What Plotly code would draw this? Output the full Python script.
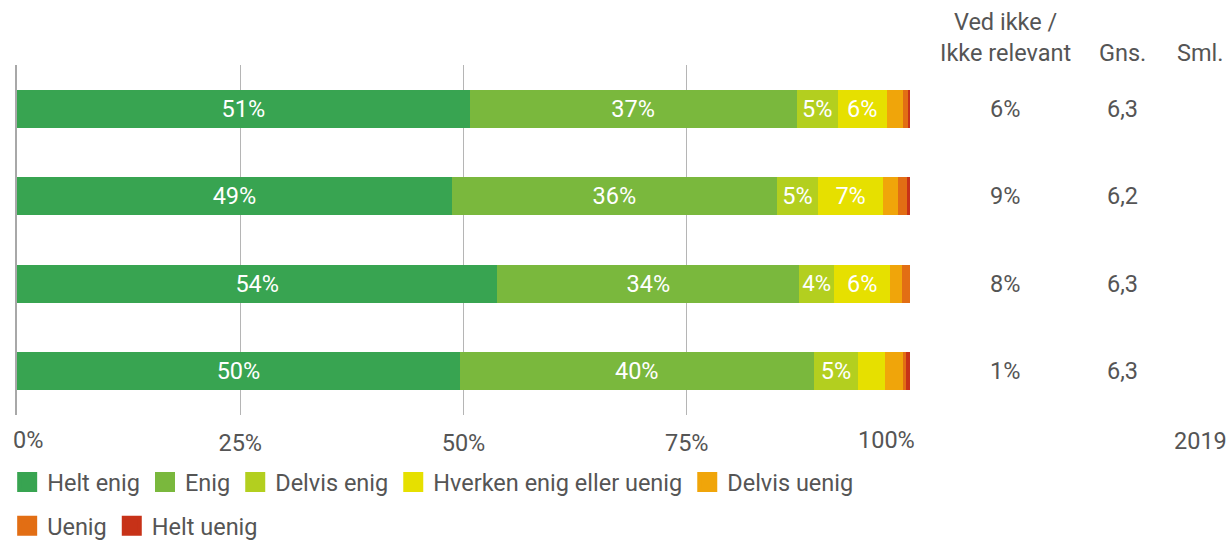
import plotly.graph_objects as go

# ---- data ----
categories = ["Påstand 1", "Påstand 2", "Påstand 3", "Påstand 4"]
series_names = ["Helt enig", "Enig", "Delvis enig", "Hverken enig eller uenig",
                "Delvis uenig", "Uenig", "Helt uenig"]
helt_enig = [50.7, 48.7, 53.8, 49.6]
enig = [36.6, 36.4, 33.8, 39.6]
delvis_enig = [4.6, 4.6, 3.9, 5.0]
hverken = [5.5, 7.3, 6.3, 3.0]
delvis_uenig = [1.8, 1.6, 1.3, 2.0]
uenig = [0.6, 1.1, 0.9, 0.3]
helt_uenig = [0.2, 0.3, 0.0, 0.5]
ved_ikke = [6, 9, 8, 1]
gns = [6.3, 6.2, 6.3, 6.3]
sml_year = "2019"
tick_vals = [0, 25, 50, 75, 100]
tick_labels = ["0%", "25%", "50%", "75%", "100%"]

series_values = [helt_enig, enig, delvis_enig, hverken, delvis_uenig, uenig, helt_uenig]
colors = ["#38a451", "#7ab83d", "#b3cf1f", "#e6e000", "#f0a50a", "#e26e14", "#c73218"]

FONT = "Roboto"
GREY = "#555555"
FS = 23.5

fig = go.Figure()
for name, vals, col in zip(series_names, series_values, colors):
    labels = [f"{round(v)}%" if v >= 3.5 else "" for v in vals]
    fig.add_trace(go.Bar(
        y=categories, x=vals, name=name, orientation="h",
        marker=dict(color=col, line=dict(width=0)),
        text=labels, textposition="inside", insidetextanchor="middle", textangle=0,
        textfont=dict(color="white", size=FS, family=FONT),
        showlegend=False, hoverinfo="name+x",
    ))

# legend entries (two rows)
for i, (name, col) in enumerate(zip(series_names, colors)):
    fig.add_trace(go.Scatter(
        x=[None], y=[None], mode="markers", name=name,
        marker=dict(symbol="square", size=16, color=col, line=dict(color=col, width=4)),
        legend="legend" if i < 5 else "legend2", showlegend=True,
    ))

def px_to_paper(px):
    return (px - 17) / 893.0

X_VED = px_to_paper(1005)
X_GNS = px_to_paper(1122)
X_SML = px_to_paper(1200)
Y_TICK = -0.0714
tfont = dict(size=FS, color=GREY, family=FONT)

annotations = []
for cat, v, g in zip(categories, ved_ikke, gns):
    annotations.append(dict(x=X_VED, y=cat, xref="paper", yref="y", text=f"{v}%",
                            xanchor="center", yanchor="middle", showarrow=False, font=tfont))
    annotations.append(dict(x=X_GNS, y=cat, xref="paper", yref="y",
                            text=f"{g:.1f}".replace(".", ","), xanchor="center",
                            yanchor="middle", showarrow=False, font=tfont))
annotations.append(dict(x=X_VED, y=1.0, xref="paper", yref="paper", xanchor="center",
                        yanchor="bottom", yshift=-4,
                        text="Ved ikke /<br>Ikke relevant", showarrow=False, font=tfont))
annotations.append(dict(x=X_GNS, y=1.0, xref="paper", yref="paper", xanchor="center",
                        yanchor="bottom", yshift=-4,
                        text="Gns.", showarrow=False, font=tfont))
annotations.append(dict(x=X_SML, y=1.0, xref="paper", yref="paper", xanchor="center",
                        yanchor="bottom", yshift=-4,
                        text="Sml.", showarrow=False, font=tfont))
annotations.append(dict(x=X_SML, y=Y_TICK, xref="paper", yref="paper", xanchor="center",
                        yanchor="middle", yshift=-1,
                        text=sml_year, showarrow=False, font=tfont))
# edge tick labels
annotations.append(dict(x=tick_vals[0], y=Y_TICK, xref="x", yref="paper", yanchor="middle",
                        xanchor="left", xshift=-6, text=tick_labels[0], showarrow=False,
                        font=tfont))
annotations.append(dict(x=tick_vals[-1], y=Y_TICK, xref="x", yref="paper", yanchor="middle",
                        xanchor="right", xshift=7, text=tick_labels[-1], showarrow=False,
                        font=tfont))

fig.update_layout(
    width=1227, height=541,
    barmode="stack", bargap=0.565,
    plot_bgcolor="white", paper_bgcolor="white",
    margin=dict(l=17, r=317, t=65, b=126, autoexpand=False),
    font=dict(family=FONT, color=GREY, size=FS),
    xaxis=dict(range=[0, 100], tickvals=tick_vals,
               ticktext=[""] + tick_labels[1:-1] + [""],
               showgrid=True, gridcolor="#b5b5b5", gridwidth=1, zeroline=False,
               showline=False, ticks="", ticklabelstandoff=11,
               tickfont=tfont, fixedrange=True),
    yaxis=dict(categoryorder="array", categoryarray=categories, autorange="reversed",
               showticklabels=False, showgrid=False, zeroline=False,
               showline=True, linecolor="#a8a8a8", linewidth=2, ticks="", fixedrange=True),
    legend=dict(orientation="h", traceorder="normal", x=-0.011, xanchor="left",
                y=-0.192, yanchor="middle", font=tfont, itemclick=False,
                itemdoubleclick=False, bgcolor="rgba(0,0,0,0)"),
    legend2=dict(orientation="h", traceorder="normal", x=-0.011, xanchor="left",
                 y=-0.317, yanchor="middle", font=tfont, itemclick=False,
                 itemdoubleclick=False, bgcolor="rgba(0,0,0,0)"),
    annotations=annotations,
)

fig.write_html(
    "out.html",
    config={"displayModeBar": False},
    post_script="document.body.style.margin='0';"
                "document.documentElement.style.overflow='hidden';"
                "document.body.style.overflow='hidden';",
)
